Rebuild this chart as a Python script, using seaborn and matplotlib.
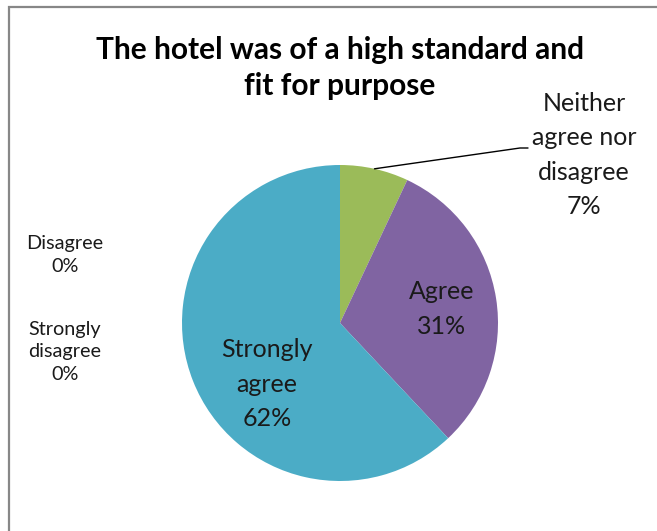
import numpy as np
import matplotlib
matplotlib.use("Agg")
import matplotlib.pyplot as plt
import seaborn as sns

# Survey responses (share of respondents, %)
categories = ["Strongly disagree", "Disagree", "Neither agree nor disagree", "Agree", "Strongly agree"]
values = [0, 0, 7, 31, 62]
label_texts = ["Strongly\ndisagree\n0%", "Disagree\n0%", "Neither\nagree nor\ndisagree\n7%",
               "Agree\n31%", "Strongly\nagree\n62%"]
title = "The hotel was of a high standard and\nfit for purpose"

sns.set_style("white")
plt.rcParams["font.family"] = ["Lato", "DejaVu Sans"]

palette = sns.color_palette(["#4F81BD", "#C0504D", "#9BBB59", "#8064A2", "#4BACC6"])

W, H = 657, 531
fig = plt.figure(figsize=(W / 100, H / 100), dpi=100)
ax = fig.add_axes([0, 0, 1, 1])

cx, cy, r = 340, H - 323, 158
wedges, _ = ax.pie(values, colors=palette, startangle=90, counterclock=False,
                   radius=r, center=(cx, cy), frame=True,
                   wedgeprops=dict(linewidth=0))
ax.set_xlim(0, W)
ax.set_ylim(0, H)
ax.set_aspect("equal")
ax.axis("off")

txt = "#1a1a1a"
# Title
ax.text(340, H - 68, title, ha="center", va="center", fontsize=21.5,
        fontweight="bold", color="#000000", linespacing=1.32)

# Labels inside the pie
ax.text(442, H - 309, label_texts[3], ha="center", va="center", fontsize=18,
        color=txt, linespacing=1.62)
ax.text(267, H - 384, label_texts[4], ha="center", va="center", fontsize=18,
        color=txt, linespacing=1.62)

# Outside label with leader line to the small slice
ax.text(584, H - 155, label_texts[2], ha="center", va="center", fontsize=18,
        color=txt, linespacing=1.6)
cum = np.cumsum(values)
mid = (cum[2] - values[2] / 2) / sum(values) * 360
ang = np.deg2rad(90 - mid)
px, py = cx + r * np.cos(ang), cy + r * np.sin(ang)
ax.plot([px, 520, 528], [py, H - 148, H - 148], color="#000000", lw=1.0)

# Zero-share categories listed at the left
ax.text(65, H - 255, label_texts[1], ha="center", va="center", fontsize=14.3,
        color=txt, linespacing=1.38)
ax.text(65, H - 352, label_texts[0], ha="center", va="center", fontsize=14.3,
        color=txt, linespacing=1.38)

# Chart area border
ax.plot([9, 9, W + 5], [-5, H - 7, H - 7], color="#878787", lw=1.6,
        solid_joinstyle="miter", clip_on=False)

fig.savefig("out.png", dpi=100)
